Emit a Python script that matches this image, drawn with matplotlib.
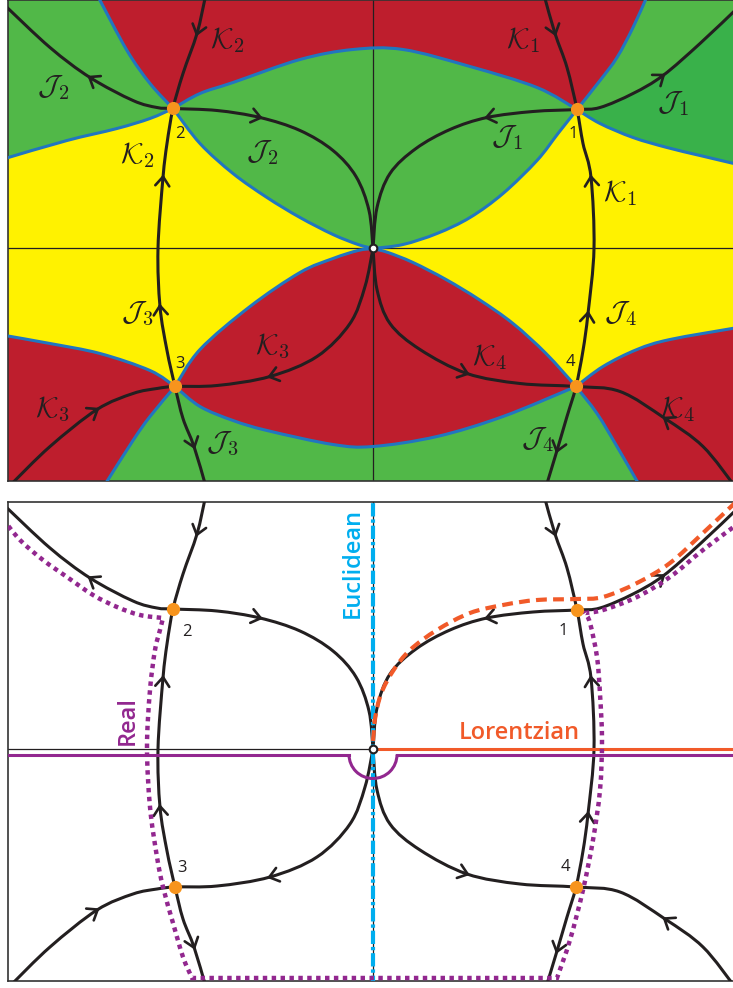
import numpy as np
import matplotlib
matplotlib.use('Agg')
import matplotlib.pyplot as plt
from matplotlib.path import Path
from matplotlib.patches import PathPatch, Arc

plt.rcParams['mathtext.fontset'] = 'cm'
plt.rcParams['font.family'] = ['Open Sans', 'DejaVu Sans']

# all coordinates: pixel offsets from the origin of each panel, y pointing up

# saddle points 1..4
saddle_names = ['1', '2', '3', '4']
saddle_x = [204, -200, -198, 203]
saddle_y = [139, 140, -138, -138]

# flow lines (steepest descent / ascent)
FLOW_LEFT = [(-168, 250), (-176, 215), (-190, 175), (-200, 140), (-206, 105),
             (-210, 71), (-215, 0), (-213, -58), (-206, -102), (-198, -138),
             (-190, -170), (-179, -198), (-168, -235)]
FLOW_RIGHT = [(172, 250), (182, 215), (194, 181), (204, 139), (210, 105),
              (218, 71), (221, 0), (215, -65), (210, -102), (203, -138),
              (194, -168), (184, -202), (174, -235)]
FLOW_J2 = [(-368, 243), (-323, 201), (-283, 171), (-240, 148), (-216, 141),
           (-200, 140), (-156, 138), (-113, 131), (-73, 118), (-40, 98),
           (-17, 72), (-4, 38), (0, 0)]
J1_IN = [(0, 0), (4, 41), (17, 75), (43, 100), (77, 119), (114, 131),
         (160, 137), (204, 139)]
J1_OUT = [(204, 139), (227, 141), (260, 155), (290, 173), (327, 205), (364, 240)]
FLOW_K3 = [(-362, -236), (-323, -198), (-276, -161), (-240, -145), (-216, -140),
           (-198, -138), (-156, -137), (-103, -128), (-56, -108), (-23, -75),
           (-8, -38), (0, 0)]
FLOW_K4 = [(0, 0), (4, -41), (17, -75), (47, -101), (94, -125), (147, -135),
           (203, -138), (247, -143), (292, -170), (330, -198), (362, -238)]

flows = {'left': FLOW_LEFT, 'right': FLOW_RIGHT, 'j2': FLOW_J2,
         'j1': J1_IN + J1_OUT[1:], 'k3': FLOW_K3, 'k4': FLOW_K4}

# (flow line, waypoint index, direction along the list)
ARROWS = [('left', 1, 1), ('left', 5, -1), ('left', 7, -1), ('left', 11, 1),
          ('right', 1, 1), ('right', 5, -1), ('right', 7, -1), ('right', 11, 1),
          ('j2', 2, -1), ('j2', 7, 1), ('j1', 5, -1), ('j1', 10, 1),
          ('k3', 2, 1), ('k3', 7, -1), ('k4', 4, 1), ('k4', 8, -1)]

# region boundaries (top panel)
A_UP = [(-275, 252), (-246, 198), (-223, 165), (-200, 140)]
A_LOW = [(-200, 140), (-173, 105), (-140, 75), (-106, 51), (-73, 31),
         (-40, 14), (-15, 4), (0, 0)]
B_LEFT = [(-368, 90), (-306, 108), (-256, 120), (-223, 130), (-200, 140)]
B_MID = [(-200, 140), (-173, 155), (-140, 166), (-73, 189), (-20, 199),
         (30, 199), (97, 182), (164, 161), (204, 139)]
B_RIGHT = [(204, 139), (227, 125), (260, 111), (294, 101), (327, 93), (365, 84)]
C_UP = [(204, 139), (227, 168), (244, 191), (260, 221), (274, 252)]
C_LOW = [(204, 139), (185, 115), (164, 88), (130, 55), (97, 31), (64, 15),
         (30, 4), (0, 0)]
D_LEFT = [(-368, -87), (-323, -95), (-273, -105), (-223, -122), (-198, -138)]
D_RIGHT = [(-198, -138), (-173, -101), (-123, -58), (-73, -24), (-40, -10),
           (-15, -2), (0, 0)]
F_LEFT = [(0, 0), (15, -4), (40, -14), (73, -31), (106, -51), (140, -75),
          (173, -105), (203, -138)]
F_RIGHT = [(203, -138), (224, -165), (244, -198), (266, -236)]
E_LEFT = [(-268, -236), (-240, -192), (-223, -168), (-198, -138)]
E_MID = [(-198, -138), (-173, -158), (-140, -172), (-106, -182), (-40, -196),
         (0, -198), (64, -188), (130, -168), (203, -138)]
E_RIGHT = [(203, -138), (230, -118), (264, -101), (297, -91), (365, -79)]
boundaries = [A_UP, A_LOW, B_LEFT, B_MID, B_RIGHT, C_UP, C_LOW,
              D_LEFT, D_RIGHT, F_LEFT, F_RIGHT, E_LEFT, E_MID, E_RIGHT]

# top panel labels
top_lab_text = ['K2', 'J2', 'K2', 'J2', 'K1', 'J1', 'J1', 'K1',
                'J3', 'K3', 'K3', 'J3', 'J4', 'K4', 'K4', 'J4']
top_lab_x = [-146, -320, -236, -111, 150, 300, 134, 247,
             -236, -101, -321, -151, 247, 117, 305, 164]
top_lab_y = [208, 161, 93, 96, 208, 145, 111, 55,
             -65, -98, -161, -195, -65, -109, -161, -191]
top_num_x = [200, -193, -193, 197]
top_num_y = [115, 115, -115, -113]
bot_num_x = [190, -186, -191, 192]
bot_num_y = [118, 117, -119, -118]

# bottom panel contours
LORENTZ = [(0, 8), (2, 30), (8, 55), (20, 78), (37, 99), (64, 119), (97, 136),
           (130, 144), (164, 149), (204, 150), (230, 152), (264, 166),
           (297, 186), (330, 216), (364, 248)]
REAL_NW = [(-370, 230), (-353, 209), (-330, 189), (-306, 172), (-280, 154),
           (-256, 142), (-233, 134), (-210, 131)]
REAL_W = [(-210, 131), (-213, 119), (-218, 99), (-223, 59), (-226, 2),
          (-223, -58), (-216, -108), (-210, -138), (-200, -174), (-190, -208),
          (-181, -229)]
REAL_S = [(-181, -229), (184, -229)]
REAL_E = [(184, -229), (197, -191), (210, -141), (220, -91), (227, -41),
          (229, 9), (227, 55), (224, 92), (217, 126), (212, 136)]
REAL_NE = [(212, 136), (230, 139), (264, 152), (297, 172), (330, 199), (366, 226)]
real_y0 = -5.5
real_r = 24

RED = '#be1e2d'
GREEN = '#51b848'
DKGREEN = '#39b14a'
YELLOW = '#fff200'
BLUE = '#2176c0'
INK = '#231f20'
ORANGE_PT = '#f7941d'
PURPLE = '#92278f'
CYAN = '#00aeef'
LOR = '#f15a29'


def smooth(pts):
    p = np.asarray(pts, float)
    n = len(p)
    verts, codes = [p[0]], [Path.MOVETO]
    for i in range(n - 1):
        a = p[max(i - 1, 0)]
        b, c = p[i], p[i + 1]
        d = p[min(i + 2, n - 1)]
        verts += [b + (c - a) / 6, c - (d - b) / 6, c]
        codes += [Path.CURVE4] * 3
    return verts, codes


def joined(*parts, close=False):
    verts, codes = [], []
    for kind, pts in parts:
        if kind == 'c':
            v, c = smooth(pts)
        else:
            v, c = [np.asarray(pts, float)], [Path.MOVETO]
        if verts:
            c = [Path.LINETO] + c[1:]
        verts += v
        codes += c
    if close:
        verts.append(verts[0])
        codes.append(Path.CLOSEPOLY)
    return Path(verts, codes)


def curve(ax, pts, **kw):
    v, c = smooth(pts)
    ax.add_patch(PathPatch(Path(v, c), fill=False, **kw))


def add_arrow(ax, pts, i, sign):
    p = np.asarray(pts, float)
    t = p[min(i + 1, len(p) - 1)] - p[max(i - 1, 0)]
    t = t / np.hypot(*t) * sign
    ax.annotate('', xy=p[i] + 3 * t, xytext=p[i] - 3 * t,
                arrowprops=dict(arrowstyle='->,head_length=0.55,head_width=0.42',
                                lw=1.9, color=INK, shrinkA=0, shrinkB=0,
                                mutation_scale=12), zorder=5)


def draw_flows(ax):
    for pts in flows.values():
        curve(ax, pts, lw=2.2, edgecolor=INK, zorder=4, capstyle='round')
    for name, i, s in ARROWS:
        add_arrow(ax, flows[name], i, s)
    ax.plot(saddle_x, saddle_y, 'o', ms=9.5, color=ORANGE_PT, mec='none', zorder=8)
    ax.plot([0], [0], 'o', ms=5.5, mfc='white', mec=INK, mew=1.5, zorder=9)


def setup(ax, ytop, ybot):
    ax.set_xlim(-365, 362)
    ax.set_ylim(ybot, ytop)
    ax.set_xticks([])
    ax.set_yticks([])
    for sp in ax.spines.values():
        sp.set_color('#333333')
        sp.set_linewidth(1.2)
    ax.axhline(0, color=INK, lw=0.9, zorder=2)
    ax.axvline(0, color=INK, lw=0.9, zorder=2)


fig = plt.figure(figsize=(7.33, 9.88), dpi=100)
W, H = 733.0, 988.0

# ---------------- top panel ----------------
ax1 = fig.add_axes([8 / W, (H - 481) / H, 727 / W, 481 / H])
setup(ax1, 248.5, -232.5)
ax1.set_facecolor(YELLOW)

regions = [
    (RED, [('c', A_UP), ('c', B_MID), ('c', C_UP), ('p', (274, 262)), ('p', (-275, 262))]),
    (GREEN, [('p', (-375, 262)), ('p', (-275, 262)), ('c', A_UP), ('c', B_LEFT[::-1]),
             ('p', (-375, 90))]),
    (GREEN, [('c', B_MID), ('c', C_LOW), ('c', A_LOW[::-1])]),
    (GREEN, [('c', C_UP[::-1]), ('c', B_RIGHT), ('p', (375, 84)), ('p', (375, 262)),
             ('p', (274, 262))]),
    (DKGREEN, [('c', J1_OUT), ('p', (375, 240)), ('p', (375, 84)), ('c', B_RIGHT[::-1])]),
    (RED, [('c', D_RIGHT), ('c', F_LEFT), ('c', E_MID[::-1])]),
    (RED, [('c', D_LEFT), ('c', E_LEFT[::-1]), ('p', (-268, -245)), ('p', (-375, -245)),
           ('p', (-375, -87))]),
    (GREEN, [('c', E_LEFT), ('c', E_MID), ('c', F_RIGHT), ('p', (266, -245)),
             ('p', (-268, -245))]),
    (RED, [('c', E_RIGHT), ('p', (375, -79)), ('p', (375, -245)), ('p', (266, -245)),
           ('c', F_RIGHT[::-1])]),
]
for col, parts in regions:
    ax1.add_patch(PathPatch(joined(*parts, close=True), facecolor=col,
                            edgecolor='none', zorder=1))
for b in boundaries:
    curve(ax1, b, lw=2.2, edgecolor=BLUE, zorder=3)

draw_flows(ax1)
for t, x, y in zip(top_lab_text, top_lab_x, top_lab_y):
    ax1.text(x, y, r'$\mathcal{%s}_\mathsf{%s}$' % (t[0], t[1]), fontsize=21,
             color=INK, ha='center', va='center', zorder=10)
for n, x, y in zip(saddle_names, top_num_x, top_num_y):
    ax1.text(x, y, n, fontsize=12, color=INK, ha='center', va='center', zorder=10)

# ---------------- bottom panel ----------------
ax2 = fig.add_axes([8 / W, (H - 981) / H, 727 / W, 479 / H])
setup(ax2, 247, -232)
ax2.set_facecolor('white')
draw_flows(ax2)
for n, x, y in zip(saddle_names, bot_num_x, bot_num_y):
    ax2.text(x, y, n, fontsize=12, color=INK, ha='center', va='center', zorder=10)

# Euclidean contour
ax2.plot([0, 0], [-240, 250], color=CYAN, lw=3,
         linestyle=(0, (3.2, 0.7, 0.8, 0.7)), zorder=6)
ax2.text(-20, 186, 'Euclidean', color=CYAN, fontsize=17, fontweight='semibold',
         rotation=90, ha='center', va='center', zorder=10)

# Lorentzian contour
ax2.plot([0, 370], [0, 0], color=LOR, lw=2.2, zorder=6, solid_capstyle='butt')
curve(ax2, LORENTZ, lw=3, edgecolor=LOR, linestyle=(0, (2.6, 1.5)), zorder=6)
ax2.text(146, 16, 'Lorentzian', color=LOR, fontsize=17, fontweight='semibold',
         ha='center', va='center', zorder=10)

# Real contour
ax2.plot([-370, -real_r], [real_y0, real_y0], color=PURPLE, lw=2.2, zorder=6)
ax2.plot([real_r, 370], [real_y0, real_y0], color=PURPLE, lw=2.2, zorder=6)
ax2.add_patch(Arc((0, real_y0), 2 * real_r, 2 * real_r, theta1=180, theta2=360,
                  color=PURPLE, lw=2.2, zorder=6))
real_path = joined(('c', REAL_NW), ('c', REAL_W), ('c', REAL_S), ('c', REAL_E),
                   ('c', REAL_NE))
ax2.add_patch(PathPatch(real_path, fill=False, edgecolor=PURPLE, lw=3.2,
                        linestyle=(0, (1, 1)), capstyle='butt', zorder=6))
ax2.text(-245, 29, 'Real', color=PURPLE, fontsize=17, fontweight='semibold',
         rotation=90, ha='center', va='center', zorder=10)

fig.savefig('out.png', dpi=100)
